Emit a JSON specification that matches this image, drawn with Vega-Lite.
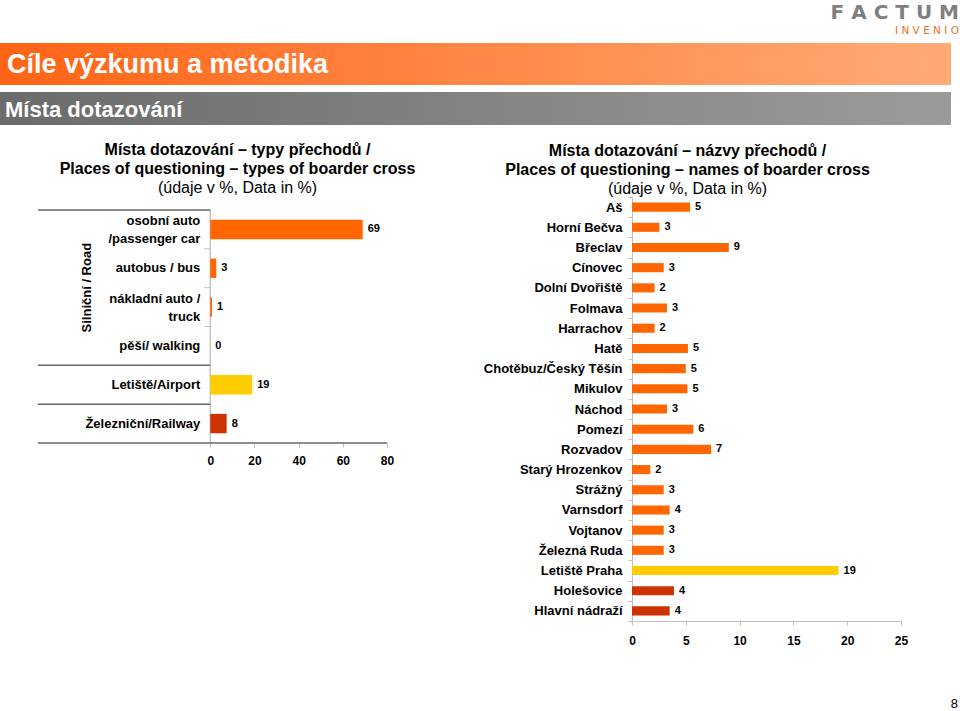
{
"$schema": "https://vega.github.io/schema/vega-lite/v6.json",
"padding": 0,
"background": "white",
"config": {
  "font": "Liberation Sans",
  "view": {"stroke": null},
  "axis": {"labelColor": "#000", "labelFont": "Liberation Sans", "grid": false},
  "title": {"color": "#000", "fontSize": 16, "fontWeight": "bold", "lineHeight": 19, "subtitleColor": "#000", "subtitleFontSize": 16, "subtitleFontWeight": "normal", "subtitlePadding": 3, "subtitleFont": "Liberation Sans", "font": "Liberation Sans"}
},
"datasets": {
  "left": [
    {"cat": "osobní auto", "label": "osobní auto\n/passenger car", "group": "Silniční / Road", "type": "road", "value": 69.0, "text": "69"},
    {"cat": "autobus", "label": "autobus / bus", "group": "Silniční / Road", "type": "road", "value": 2.7, "text": "3"},
    {"cat": "nákladní auto", "label": "nákladní auto /\ntruck", "group": "Silniční / Road", "type": "road", "value": 0.8, "text": "1"},
    {"cat": "pěší", "label": "pěší/ walking", "group": "Silniční / Road", "type": "road", "value": 0, "text": "0"},
    {"cat": "Letiště", "label": "Letiště/Airport", "group": "Letiště/Airport", "type": "air", "value": 19.0, "text": "19"},
    {"cat": "Železniční", "label": "Železniční/Railway", "group": "Železniční/Railway", "type": "rail", "value": 7.4, "text": "8"}
  ],
  "right": [
    {"name": "Aš", "type": "road", "value": 5.4, "text": "5"},
    {"name": "Horní Bečva", "type": "road", "value": 2.55, "text": "3"},
    {"name": "Břeclav", "type": "road", "value": 9.0, "text": "9"},
    {"name": "Cínovec", "type": "road", "value": 2.95, "text": "3"},
    {"name": "Dolní Dvořiště", "type": "road", "value": 2.1, "text": "2"},
    {"name": "Folmava", "type": "road", "value": 3.25, "text": "3"},
    {"name": "Harrachov", "type": "road", "value": 2.1, "text": "2"},
    {"name": "Hatě", "type": "road", "value": 5.2, "text": "5"},
    {"name": "Chotěbuz/Český Těšín", "type": "road", "value": 5.0, "text": "5"},
    {"name": "Mikulov", "type": "road", "value": 5.15, "text": "5"},
    {"name": "Náchod", "type": "road", "value": 3.25, "text": "3"},
    {"name": "Pomezí", "type": "road", "value": 5.7, "text": "6"},
    {"name": "Rozvadov", "type": "road", "value": 7.35, "text": "7"},
    {"name": "Starý Hrozenkov", "type": "road", "value": 1.7, "text": "2"},
    {"name": "Strážný", "type": "road", "value": 2.95, "text": "3"},
    {"name": "Varnsdorf", "type": "road", "value": 3.5, "text": "4"},
    {"name": "Vojtanov", "type": "road", "value": 2.95, "text": "3"},
    {"name": "Železná Ruda", "type": "road", "value": 2.95, "text": "3"},
    {"name": "Letiště Praha", "type": "air", "value": 19.2, "text": "19"},
    {"name": "Holešovice", "type": "rail", "value": 3.9, "text": "4"},
    {"name": "Hlavní nádraží", "type": "rail", "value": 3.5, "text": "4"}
  ]
},
"spacing": 17,
"vconcat": [
  {
    "spacing": 7,
    "vconcat": [
      {
        "width": 951, "height": 35,
        "data": {"values": [{"brand": "F A C T U M", "sub": "I N V E N I O"}]},
        "layer": [
          {"mark": {"type": "text", "align": "right", "baseline": "alphabetic", "fontSize": 20, "fontWeight": "bold", "font": "DejaVu Sans", "color": "#7f7f7f", "dx": 8, "dy": 1.5},
           "encoding": {"x": {"datum": 1, "type": "quantitative", "scale": {"domain": [0, 1]}, "axis": null}, "text": {"field": "brand"}}},
          {"mark": {"type": "text", "align": "right", "baseline": "alphabetic", "fontSize": 10.5, "font": "DejaVu Sans", "color": "#f07020", "dx": 8, "dy": 16},
           "encoding": {"x": {"datum": 1, "type": "quantitative"}, "text": {"field": "sub"}}}
        ]
      },
      {
        "width": 951, "height": 42,
        "data": {"values": [{"heading": "Cíle výzkumu a metodika"}]},
        "layer": [
          {"mark": {"type": "rect", "color": {"gradient": "linear", "x1": 0, "x2": 1, "y1": 0, "y2": 0, "stops": [{"offset": 0, "color": "#ff6414"}, {"offset": 1, "color": "#ffab78"}]}}, "encoding": {}},
          {"mark": {"type": "text", "align": "left", "baseline": "middle", "fontSize": 27, "font": "Liberation Sans", "fontWeight": "bold", "color": "white", "dx": 7, "dy": 1},
           "encoding": {"x": {"datum": 0, "type": "quantitative", "scale": {"domain": [0, 1]}, "axis": null}, "text": {"field": "heading"}}}
        ]
      },
      {
        "width": 951, "height": 33,
        "data": {"values": [{"heading": "Místa dotazování"}]},
        "layer": [
          {"mark": {"type": "rect", "color": {"gradient": "linear", "x1": 0, "x2": 1, "y1": 0, "y2": 0, "stops": [{"offset": 0, "color": "#6b6b6b"}, {"offset": 1, "color": "#9b9b9b"}]}}, "encoding": {}},
          {"mark": {"type": "text", "align": "left", "baseline": "middle", "fontSize": 22, "font": "Liberation Sans", "fontWeight": "bold", "color": "white", "dx": 5, "dy": 1},
           "encoding": {"x": {"datum": 0, "type": "quantitative", "scale": {"domain": [0, 1]}, "axis": null}, "text": {"field": "heading"}}}
        ]
      }
    ]
  },
  {
    "spacing": 67,
    "hconcat": [
      {
        "width": 387, "height": 246,
        "data": {"name": "left"},
        "title": {"text": ["Místa dotazování – typy přechodů /", "Places of questioning – types of boarder cross"], "subtitle": "(údaje v %, Data in %)", "anchor": "middle", "frame": "group", "dx": 44, "offset": 1},
        "layer": [
          {"mark": {"type": "bar", "fillOpacity": 0, "stroke": "#bfbfbf", "strokeWidth": 1},
           "encoding": {
             "y": {"field": "cat", "type": "nominal", "sort": null, "scale": {"domain": ["osobní auto", "autobus", "nákladní auto", "pěší", "Letiště", "Železniční"], "paddingInner": 0, "paddingOuter": 0.1675, "align": 1}, "axis": null},
             "x": {"datum": 0, "type": "quantitative", "scale": {"domain": [-95.2, 80], "nice": false, "zero": false}, "axis": {"title": null, "values": [0, 20, 40, 60, 80], "domain": false, "tickSize": 4, "tickColor": "#bfbfbf", "labelFontSize": 12, "labelFontWeight": "bold", "labelPadding": 8, "labelFlush": false}},
             "x2": {"datum": 0}}},
          {"mark": {"type": "bar", "height": {"band": 0.5}},
           "encoding": {
             "y": {"field": "cat", "type": "nominal", "sort": null},
             "x": {"field": "value", "type": "quantitative"},
             "color": {"field": "type", "type": "nominal", "scale": {"domain": ["road", "air", "rail"], "range": ["#ff6600", "#ffcc00", "#cc3300"]}, "legend": null}}},
          {"mark": {"type": "text", "align": "left", "baseline": "middle", "dx": 5, "fontSize": 11, "fontWeight": "bold", "color": "#000"},
           "encoding": {"y": {"field": "cat", "type": "nominal", "sort": null}, "x": {"field": "value", "type": "quantitative"}, "text": {"field": "text"}}},
          {"transform": [{"filter": "indexof(datum.label, '\\n') < 0"}],
           "mark": {"type": "text", "align": "right", "baseline": "middle", "dx": -10, "fontSize": 13, "fontWeight": "bold", "color": "#000"},
           "encoding": {"y": {"field": "cat", "type": "nominal", "sort": null}, "x": {"datum": 0, "type": "quantitative"}, "text": {"field": "label"}}},
          {"transform": [{"filter": "indexof(datum.label, '\\n') >= 0"}],
           "mark": {"type": "text", "align": "right", "baseline": "middle", "dx": -10, "dy": -8, "fontSize": 13, "fontWeight": "bold", "color": "#000", "lineBreak": "\n", "lineHeight": 18},
           "encoding": {"y": {"field": "cat", "type": "nominal", "sort": null}, "x": {"datum": 0, "type": "quantitative"}, "text": {"field": "label"}}},
          {"transform": [{"filter": {"field": "cat", "oneOf": ["autobus", "nákladní auto", "pěší"]}}],
           "mark": {"type": "rule", "color": "#bfbfbf"},
           "encoding": {"y": {"field": "cat", "type": "nominal", "sort": null, "bandPosition": 0}, "x": {"datum": -2.7, "type": "quantitative"}, "x2": {"datum": 0}}},
          {"transform": [{"filter": {"field": "cat", "oneOf": ["osobní auto", "Letiště", "Železniční"]}}],
           "mark": {"type": "rule", "color": "#666666", "strokeWidth": 1.5},
           "encoding": {"y": {"field": "cat", "type": "nominal", "sort": null, "bandPosition": 0}, "x": {"datum": -78, "type": "quantitative"}, "x2": {"datum": 0}}},
          {"transform": [{"filter": {"field": "cat", "equal": "Železniční"}}],
           "mark": {"type": "rule", "color": "#666666", "strokeWidth": 1.5},
           "encoding": {"y": {"field": "cat", "type": "nominal", "sort": null, "bandPosition": 1}, "x": {"datum": -78, "type": "quantitative"}, "x2": {"datum": 80}}},
          {"transform": [{"filter": {"field": "cat", "equal": "nákladní auto"}}],
           "mark": {"type": "text", "angle": 270, "align": "center", "baseline": "middle", "fontSize": 13, "fontWeight": "bold", "color": "#000"},
           "encoding": {"y": {"field": "cat", "type": "nominal", "sort": null, "bandPosition": 0}, "x": {"datum": -56, "type": "quantitative"}, "text": {"field": "group"}}}
        ]
      },
      {
        "width": 269, "height": 424,
        "data": {"name": "right"},
        "title": {"text": ["Místa dotazování – názvy přechodů /", "Places of questioning – names of boarder cross"], "subtitle": "(údaje v %, Data in %)", "anchor": "middle", "frame": "group", "dx": -79, "offset": -6},
        "encoding": {
          "y": {"field": "name", "type": "nominal", "sort": null, "scale": {"paddingInner": 0, "paddingOuter": 0}, "axis": {"title": null, "labelFontSize": 13, "labelFontWeight": "bold", "labelPadding": 6, "tickBand": "extent", "tickSize": 4, "tickColor": "#c0c0c0", "domainColor": "#c0c0c0"}},
          "x": {"field": "value", "type": "quantitative", "scale": {"domain": [0, 25], "nice": false}, "axis": {"title": null, "values": [0, 5, 10, 15, 20, 25], "labelFontSize": 12, "labelFontWeight": "bold", "labelPadding": 10, "tickSize": 4, "tickColor": "#c0c0c0", "domainColor": "#c0c0c0", "labelFlush": false}}
        },
        "layer": [
          {"mark": {"type": "bar", "height": {"band": 0.45}},
           "encoding": {"color": {"field": "type", "type": "nominal", "scale": {"domain": ["road", "air", "rail"], "range": ["#ff6600", "#ffcc00", "#cc3300"]}, "legend": null}}},
          {"mark": {"type": "text", "align": "left", "baseline": "middle", "dx": 5, "fontSize": 11, "fontWeight": "bold", "color": "#000"},
           "encoding": {"text": {"field": "text"}}}
        ]
      }
    ]
  },
  {
    "width": 960, "height": 20,
    "data": {"values": [{"page": "8"}]},
    "mark": {"type": "text", "align": "right", "baseline": "middle", "fontSize": 13, "color": "#000", "dx": -2, "dy": 31},
    "encoding": {"x": {"datum": 1, "type": "quantitative", "scale": {"domain": [0, 1]}, "axis": null}, "text": {"field": "page"}}
  }
]
}
